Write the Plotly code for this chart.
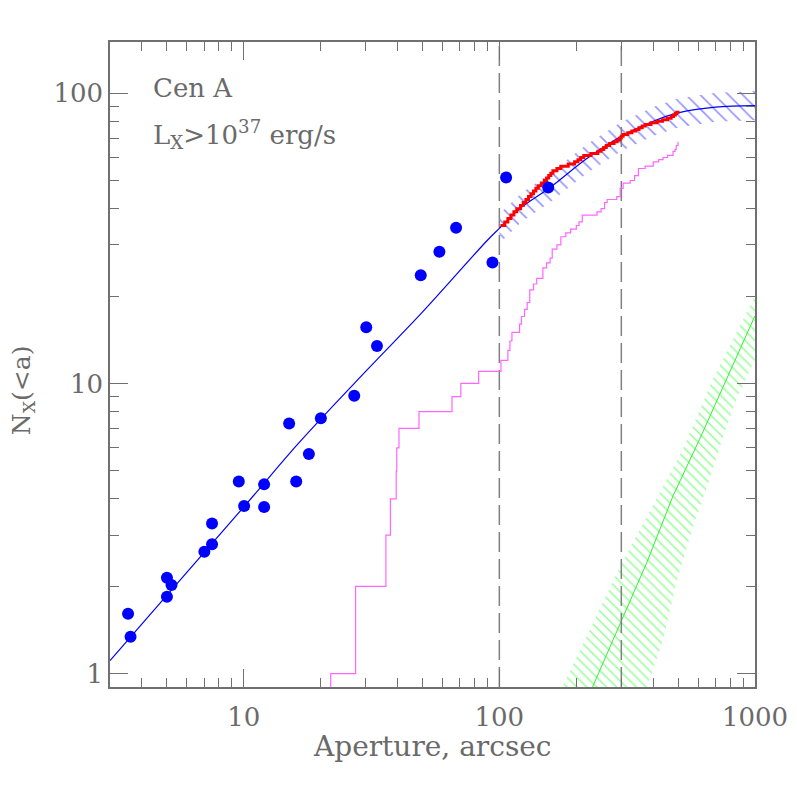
import numpy as np
import plotly.graph_objects as go

# ---------------- data ----------------
# observed cumulative counts (blue dots)
obs_a = [3.53, 3.61, 5.01, 5.01, 5.22, 7.02, 7.52, 7.52, 9.57, 10.04, 12.02, 12.02,
         15.06, 16.05, 17.99, 20.04, 27.07, 30.16, 33.22, 49.27, 58.28, 67.73,
         93.98, 106.3, 155.3]
obs_n = [1.61, 1.34, 2.14, 1.84, 2.02, 2.63, 2.79, 3.29, 4.59, 3.78, 4.49, 3.75,
         7.27, 4.59, 5.71, 7.58, 9.07, 15.6, 13.46, 23.6, 28.4, 34.4,
         26.1, 51.2, 47.3]

# model curve (blue line)
mod_a = [3, 10, 16.6, 30, 50, 90, 100, 122, 158, 220, 300, 400, 500, 700, 1000]
mod_n = [1.11, 3.75, 6.3, 11.0, 17.6, 31.2, 34.2, 40.4, 47.3, 59.5, 71.0, 80.0, 85.5, 89.5, 90.6]

# model uncertainty band (blue hatch)
band_a = [100, 122, 158, 220, 300, 400, 500, 700, 1000]
band_hi = [38.3, 45.2, 53.0, 66.6, 79.5, 89.6, 95.8, 100.2, 101.5]
band_lo = [30.4, 36.0, 42.1, 53.0, 63.2, 71.2, 76.1, 79.7, 80.6]

# cumulative counts, red step curve
red_a = [101, 105, 108, 111, 114, 117, 121, 124, 127, 130, 133, 136, 139, 142, 146,
         150, 153, 156, 159, 162, 168, 174, 186, 197, 203, 208, 214, 228, 243, 250,
         256, 262, 270, 281, 289, 296, 300, 305, 318, 330, 342, 352, 362, 372, 392,
         414, 435, 455, 470, 480, 488, 494, 500]
red_n = [35, 36, 37, 38, 39, 40, 41, 42, 43, 44, 45, 46, 47, 48, 49,
         50, 51, 52, 53, 54, 55, 56, 57, 58, 59, 60, 61, 62, 63, 64,
         65, 66, 67, 68, 69, 70, 71, 72, 73, 74, 75, 76, 77, 78, 79,
         80, 81, 82, 83, 84, 85, 86, 87]

# cumulative counts, magenta step curve
mag_a = [21.9, 21.9, 27.4, 36.0, 37.5, 39.5, 39.7, 40.5, 48.5, 65.3, 70.7, 83.0, 101.5,
         108, 110, 112, 120, 122, 125.5, 128.5, 131.5, 136, 140, 148, 153, 158,
         161, 168, 174, 182, 190, 200, 205, 211, 241, 250, 258, 264, 288, 297,
         305, 325, 338, 350, 372, 400, 420, 437, 455, 478, 487, 492, 500]
mag_n = [0.5, 1, 2, 3, 4, 5, 6, 7, 8, 9, 10, 11, 12, 13, 14, 15, 16, 17, 18, 19,
         21, 22, 23, 25, 26, 27, 29, 30, 32, 33, 34, 35, 36, 38, 39, 40, 42, 43,
         44, 47, 49, 50, 52, 55, 56, 58, 59, 60, 61, 63, 64, 66, 68]

# background (green line + hatched band)
bkg_a = [225, 377, 478, 606, 1000]
bkg_n = [0.85, 2.41, 4.1, 6.4, 17.1]
bkg_up_a = [172, 297, 522, 683, 1000]
bkg_up_n = [0.86, 2.34, 5.92, 10.3, 20.0]
bkg_lo_a = [370, 437, 493, 572, 664, 759, 854, 1000]
bkg_lo_n = [0.85, 1.31, 2.06, 3.22, 4.67, 6.76, 9.03, 12.1]

apertures = [100, 300]
x_range = [3, 1000]
y_range = [0.9, 150]

x_major = [10, 100, 1000]
x_minor = [4, 5, 6, 7, 8, 9, 20, 30, 40, 50, 60, 70, 80, 90,
           200, 300, 400, 500, 600, 700, 800, 900]
y_major = [1, 10, 100]
y_minor = [2, 3, 4, 5, 6, 7, 8, 9, 20, 30, 40, 50, 60, 70, 80, 90]

# ---------------- figure ----------------
FONT = "DejaVu Serif"
TXT = "#6a6a6a"
AX = "#707070"

fig = go.Figure()

# green hatched band
fig.add_trace(go.Scatter(
    x=bkg_up_a + bkg_lo_a[::-1], y=bkg_up_n + bkg_lo_n[::-1],
    mode="lines", line=dict(width=0), fill="toself", fillcolor="rgba(0,0,0,0)",
    fillpattern=dict(shape="\\", fgcolor="#22ff22", bgcolor="rgba(0,0,0,0)",
                     size=7, solidity=0.2),
    hoverinfo="skip"))

# blue hatched band
fig.add_trace(go.Scatter(
    x=band_a + band_a[::-1], y=band_hi + band_lo[::-1],
    mode="lines", line=dict(width=0), fill="toself", fillcolor="rgba(0,0,0,0)",
    fillpattern=dict(shape="\\", fgcolor="#2a2aff", bgcolor="rgba(0,0,0,0)",
                     size=10, solidity=0.16),
    hoverinfo="skip"))

# green line
fig.add_trace(go.Scatter(x=bkg_a, y=bkg_n, mode="lines",
                         line=dict(color="#33ee33", width=1)))

# dashed vertical lines
for a in apertures:
    fig.add_trace(go.Scatter(x=[a, a], y=y_range, mode="lines",
                             line=dict(color="#808080", width=1.5, dash="20px,7px")))

# magenta step curve
fig.add_trace(go.Scatter(x=mag_a, y=mag_n, mode="lines", line_shape="hv",
                         line=dict(color="#ff66ff", width=1.2)))

# blue model line
fig.add_trace(go.Scatter(x=mod_a, y=mod_n, mode="lines", line_shape="spline",
                         line=dict(color="#0000ff", width=1.2)))

# red step curve
fig.add_trace(go.Scatter(x=red_a, y=red_n, mode="lines", line_shape="hv",
                         line=dict(color="#ff0000", width=3)))

# blue dots
fig.add_trace(go.Scatter(x=obs_a, y=obs_n, mode="markers",
                         marker=dict(color="#0000ff", size=12, line=dict(width=0))))

axis_common = dict(
    type="log", showgrid=False, zeroline=False, automargin=False,
    showline=True, linecolor=AX, linewidth=1.5, mirror="ticks",
    ticks="inside", ticklen=18, tickwidth=1.2, tickcolor=AX,
    tickfont=dict(family=FONT, size=26, color=TXT),
)

fig.update_layout(
    width=797, height=797,
    margin=dict(l=102, r=50, t=34, b=118),
    paper_bgcolor="white", plot_bgcolor="white",
    showlegend=False,
    xaxis=dict(axis_common, range=[np.log10(x_range[0]), np.log10(x_range[1])],
               tickmode="array", tickvals=x_major,
               ticktext=[str(v) for v in x_major], ticklabelstandoff=6,
               minor=dict(ticks="inside", ticklen=9, tickwidth=1.2, tickcolor=AX,
                          tickmode="array", tickvals=x_minor, showgrid=False)),
    yaxis=dict(axis_common, range=[np.log10(y_range[0]), np.log10(y_range[1])],
               tickmode="array", tickvals=y_major,
               ticktext=[str(v) for v in y_major], ticklabelstandoff=0,
               minor=dict(ticks="inside", ticklen=9, tickwidth=1.2, tickcolor=AX,
                          tickmode="array", tickvals=y_minor, showgrid=False)),
    annotations=[
        dict(text="Cen A", xref="paper", yref="paper", x=0.063, y=0.929,
             xanchor="left", yanchor="middle", showarrow=False,
             font=dict(family=FONT, size=26, color=TXT)),
        dict(text="L<sub>X</sub>&gt;10<sup>37</sup> erg/s", xref="paper", yref="paper",
             x=0.063, y=0.857, xanchor="left", yanchor="middle", showarrow=False,
             font=dict(family=FONT, size=26, color=TXT)),
        dict(text="Aperture, arcsec", xref="paper", yref="paper", x=0.5, y=-0.093,
             xanchor="center", yanchor="middle", showarrow=False,
             font=dict(family=FONT, size=28, color=TXT)),
        dict(text="N<sub>X</sub>(&lt;a)", xref="paper", yref="paper", x=-0.135, y=0.46,
             xanchor="center", yanchor="middle", showarrow=False, textangle=-90,
             font=dict(family=FONT, size=25, color=TXT)),
    ],
)

fig.write_html("out.html")
